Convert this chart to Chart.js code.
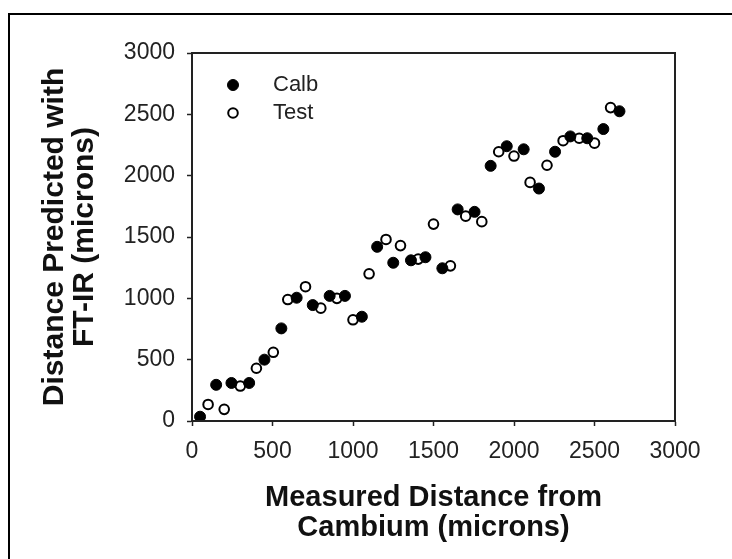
<!DOCTYPE html>
<html>
<head>
<meta charset="utf-8">
<script src="https://cdn.jsdelivr.net/npm/chart.js@4/dist/chart.umd.min.js"></script>
<style>
  body { margin: 0; background: #fff; }
  #wrap { position: relative; width: 732px; height: 559px; }
  #frame { position: absolute; left: 8px; top: 13px; right: 0; bottom: 0; border-top: 2px solid #000; border-left: 2px solid #000; }
  canvas { position: absolute; left: 0; top: 0; }
</style>
</head>
<body>
<div id="wrap">
  <div id="frame"></div>
  <canvas id="chart" width="732" height="559"></canvas>
</div>
<script>
// Calibration samples
const calbX = [50, 150, 245, 355, 450, 555, 650, 750, 855, 950, 1055, 1150, 1250, 1360, 1450, 1555, 1650, 1755, 1855, 1955, 2060, 2155, 2255, 2350, 2455, 2555, 2655];
const calbY = [35, 295, 310, 310, 500, 755, 1005, 945, 1020, 1020, 850, 1420, 1290, 1310, 1335, 1245, 1725, 1705, 2080, 2240, 2215, 1895, 2195, 2320, 2305, 2380, 2525];
// Test samples
const testX = [100, 200, 300, 400, 505, 595, 705, 800, 900, 1000, 1100, 1205, 1295, 1405, 1500, 1605, 1700, 1800, 1905, 2000, 2100, 2205, 2305, 2405, 2500, 2600];
const testY = [135, 95, 285, 430, 560, 990, 1095, 920, 1000, 825, 1200, 1480, 1430, 1320, 1605, 1265, 1670, 1625, 2195, 2160, 1945, 2085, 2285, 2305, 2265, 2555];

const axisMin = 0;
const axisMax = 3000;
const axisStep = 500;

const xTitle = ['Measured Distance from', 'Cambium (microns)'];
const yTitle = ['Distance Predicted with', 'FT-IR (microns)'];

const FONT = "'Liberation Sans', Arial, sans-serif";

function toPoints(xs, ys) {
  return xs.map((x, i) => ({ x: x, y: ys[i] }));
}

// box around the plot area
const plotBox = {
  id: 'plotBox',
  afterDraw(chart) {
    const { ctx, chartArea } = chart;
    ctx.save();
    ctx.strokeStyle = '#222';
    ctx.lineWidth = 2;
    ctx.strokeRect(chartArea.left, chartArea.top, chartArea.right - chartArea.left, chartArea.bottom - chartArea.top);
    ctx.restore();
  }
};

// legend inside the plot, top left
const innerLegend = {
  id: 'innerLegend',
  afterDatasetsDraw(chart) {
    const { ctx, chartArea } = chart;
    ctx.save();
    chart.data.datasets.forEach((ds, i) => {
      const cx = chartArea.left + 41;
      const cy = chartArea.top + 32 + i * 28;
      ctx.beginPath();
      ctx.arc(cx, cy, ds.pointRadius, 0, Math.PI * 2);
      ctx.fillStyle = ds.backgroundColor;
      ctx.fill();
      ctx.lineWidth = ds.borderWidth;
      ctx.strokeStyle = ds.borderColor;
      ctx.stroke();
      ctx.fillStyle = '#222';
      ctx.font = '22px ' + FONT;
      ctx.textBaseline = 'middle';
      ctx.textAlign = 'left';
      ctx.fillText(ds.label, chartArea.left + 81, cy);
    });
    ctx.restore();
  }
};

const tickStyle = {
  color: '#222',
  font: { family: FONT, size: 23 },
  stepSize: axisStep,
  callback: v => String(v)
};

new Chart(document.getElementById('chart'), {
  type: 'scatter',
  data: {
    datasets: [{
      label: 'Calb',
      data: toPoints(calbX, calbY),
      pointRadius: 5.5,
      pointHoverRadius: 5.5,
      backgroundColor: '#000',
      borderColor: '#000',
      borderWidth: 1
    }, {
      label: 'Test',
      data: toPoints(testX, testY),
      pointRadius: 4.8,
      pointHoverRadius: 4.8,
      backgroundColor: '#fff',
      borderColor: '#000',
      borderWidth: 2
    }]
  },
  options: {
    responsive: false,
    devicePixelRatio: 1,
    animation: false,
    layout: { padding: { left: 40, right: 57, top: 53, bottom: 16 } },
    plugins: {
      legend: { display: false },
      tooltip: { enabled: false }
    },
    scales: {
      x: {
        type: 'linear',
        min: axisMin,
        max: axisMax,
        afterFit(scale) { scale.height = 122; },
        grid: { drawOnChartArea: false, drawTicks: true, tickLength: 5, tickColor: '#222', tickWidth: 1.5 },
        border: { color: '#222', width: 2 },
        ticks: Object.assign({ padding: 12 }, tickStyle),
        title: {
          display: true,
          text: xTitle,
          color: '#111',
          font: { family: FONT, size: 29, weight: 'bold', lineHeight: 30 / 29 },
          padding: 0
        }
      },
      y: {
        type: 'linear',
        min: axisMin,
        max: axisMax,
        afterFit(scale) { scale.width = 152; },
        grid: { drawOnChartArea: false, drawTicks: true, tickLength: 5, tickColor: '#222', tickWidth: 1.5 },
        border: { color: '#222', width: 2 },
        ticks: Object.assign({ padding: 12 }, tickStyle),
        title: {
          display: true,
          text: yTitle,
          color: '#111',
          font: { family: FONT, size: 30, weight: 'bold', lineHeight: 30 / 30 },
          padding: 0
        }
      }
    }
  },
  plugins: [plotBox, innerLegend]
});
</script>
</body>
</html>
